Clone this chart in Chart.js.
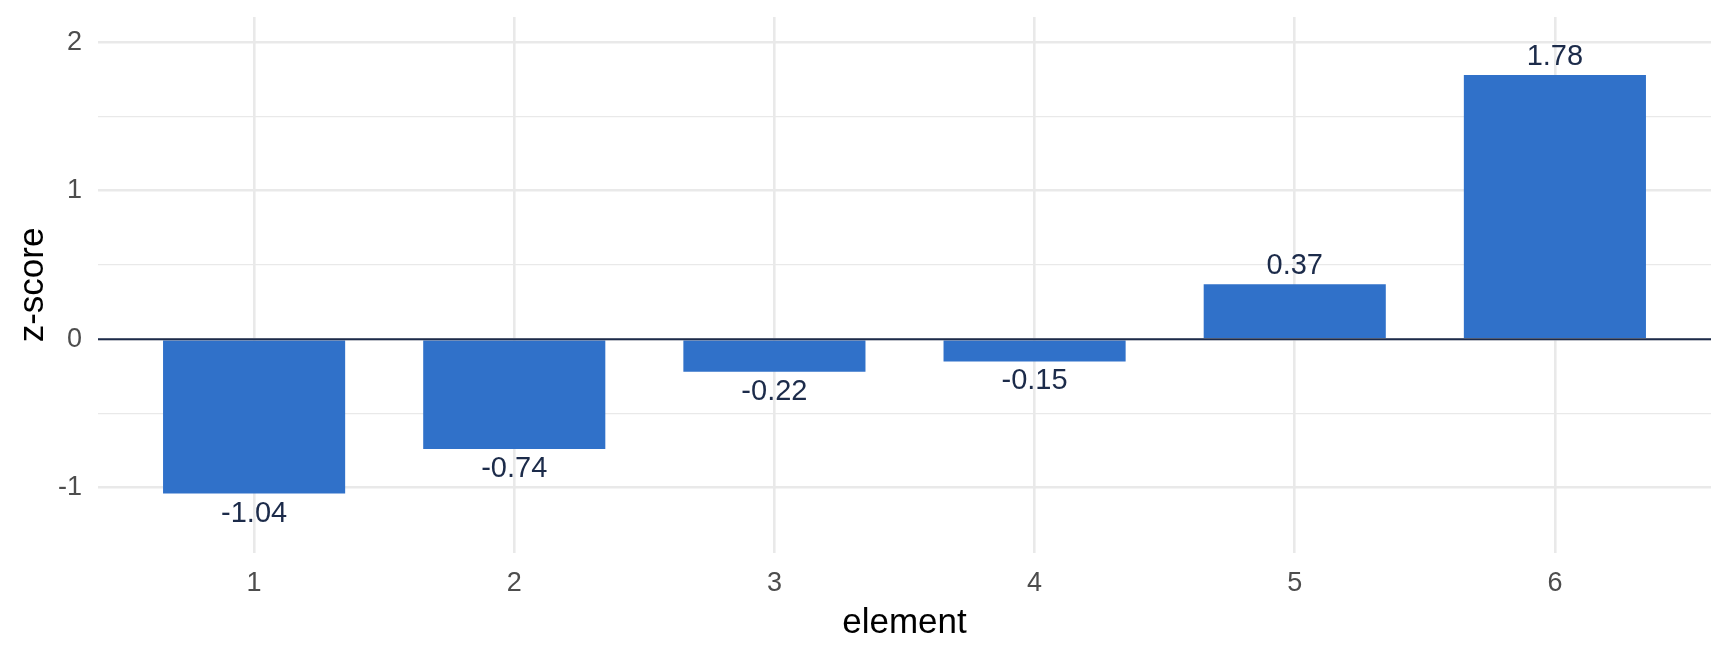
<!DOCTYPE html>
<html>
<head>
<meta charset="utf-8">
<script src="https://cdn.jsdelivr.net/npm/chart.js@4.4.1/dist/chart.umd.min.js"></script>
<style>
  html, body { margin: 0; padding: 0; background: #ffffff; }
  canvas { display: block; }
</style>
</head>
<body>
<canvas id="zChart" width="1728" height="652"></canvas>
<script>
// data
var elements = [1, 2, 3, 4, 5, 6];
var zScores = [-1.04, -0.74, -0.22, -0.15, 0.37, 1.78];
var yTicks = [-1, -0.5, 0, 0.5, 1, 1.5, 2];

var fontFam = '"Liberation Sans", Arial, Helvetica, sans-serif';
var gridCol = '#e9e9e9';
var navy = '#1c2b4a';

// bar value labels + zero line on top of the bars
var valueLabels = {
    id: 'valueLabels',
    afterDatasetsDraw: function (chart) {
        var ctx = chart.ctx;
        var area = chart.chartArea;
        var y0 = chart.scales.y.getPixelForValue(0);
        ctx.save();
        ctx.strokeStyle = navy;
        ctx.lineWidth = 2;
        ctx.beginPath();
        ctx.moveTo(area.left, y0);
        ctx.lineTo(area.right, y0);
        ctx.stroke();

        ctx.fillStyle = navy;
        ctx.font = '29px ' + fontFam;
        ctx.textAlign = 'center';
        ctx.textBaseline = 'middle';
        var meta = chart.getDatasetMeta(0);
        meta.data.forEach(function (bar, i) {
            var v = zScores[i];
            var y = v >= 0 ? bar.y - 18 : bar.y + 20;
            ctx.fillText(v.toFixed(2), bar.x, y);
        });
        ctx.restore();
    }
};

var chart = new Chart('zChart', {
    type: 'bar',
    data: {
        datasets: [{
            data: elements.map(function (e, i) { return { x: e, y: zScores[i] }; }),
            backgroundColor: '#3071c9',
            borderWidth: 0,
            barPercentage: 0.7,
            categoryPercentage: 1
        }]
    },
    options: {
        responsive: false,
        animation: false,
        devicePixelRatio: 1,
        layout: { padding: { top: 17, right: 17, left: 0, bottom: 0 } },
        plugins: {
            legend: { display: false },
            tooltip: { enabled: false }
        },
        scales: {
            x: {
                type: 'linear',
                min: 0.4,
                max: 6.6,
                offset: false,
                afterBuildTicks: function (s) {
                    s.ticks = elements.map(function (v) { return { value: v }; });
                },
                afterFit: function (s) { s.height = 99; },
                border: { display: false },
                grid: { color: gridCol, lineWidth: 2.6, drawTicks: false, offset: false },
                ticks: {
                    padding: 14,
                    color: '#4d4d4d',
                    font: { family: fontFam, size: 27 },
                    callback: function (v) { return String(v); }
                },
                title: {
                    display: true,
                    text: 'element',
                    color: '#000000',
                    font: { family: fontFam, size: 35 },
                    padding: { top: 0, bottom: 8 }
                }
            },
            y: {
                min: -1.44,
                max: 2.17,
                afterBuildTicks: function (s) {
                    s.ticks = yTicks.map(function (v) { return { value: v }; });
                },
                afterFit: function (s) {
                    s.width = 98;
                    s.paddingTop = 0;
                    s.paddingBottom = 0;
                },
                border: { display: false },
                grid: {
                    color: gridCol,
                    drawTicks: false,
                    lineWidth: function (c) {
                        return Number.isInteger(c.tick.value) ? 2.6 : 1.3;
                    }
                },
                ticks: {
                    padding: 16,
                    color: '#4d4d4d',
                    font: { family: fontFam, size: 27 },
                    callback: function (v) {
                        return Number.isInteger(v) ? String(v) : '';
                    }
                },
                title: {
                    display: true,
                    text: 'z-score',
                    color: '#000000',
                    font: { family: fontFam, size: 35 },
                    padding: { top: 12, bottom: 0 }
                }
            }
        }
    },
    plugins: [valueLabels]
});
</script>
</body>
</html>
